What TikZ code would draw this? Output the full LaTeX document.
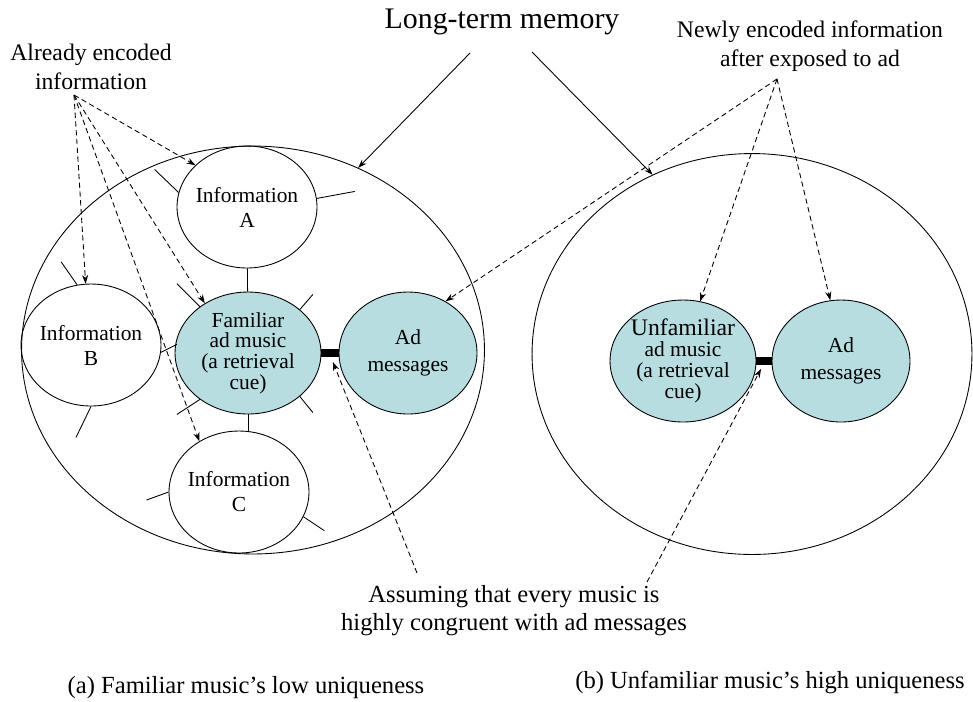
\documentclass[tikz,border=0pt]{standalone}
\usepackage{fontspec}
\setmainfont{Liberation Serif}
\usetikzlibrary{
    shapes.geometric,
    arrows.meta,
    calc
}
\definecolor{cuefill}{RGB}{183,221,224}

\begin{document}
\begin{tikzpicture}[x=0.02cm, y=-0.02cm,
    >={Stealth[length=5pt,width=3.5pt]},
    memory/.style={draw, ellipse, line width=0.5pt},
    info/.style={draw, ellipse, line width=0.5pt, inner sep=0pt, inner xsep=-6pt,
        minimum width=2.8cm, minimum height=2.44cm, align=center,
        font=\fontsize{12.2}{14.2}\selectfont},
    cue/.style={info, fill=cuefill, minimum width=2.92cm, font=\fontsize{12.2}{11.8}\selectfont},
    admsg/.style={info, fill=cuefill, minimum width=2.76cm, font=\fontsize{12.2}{15.3}\selectfont},
    heading/.style={font=\fontsize{17}{20}\selectfont},
    note/.style={align=center, font=\fontsize{13.5}{16.2}\selectfont},
    caption/.style={align=center, font=\fontsize{14}{16}\selectfont},
    link/.style={line width=0.5pt},
    bar/.style={line width=5.1pt},
    pointer/.style={->, line width=0.5pt},
    hint/.style={->, dashed, dash pattern=on 3pt off 2pt, line width=0.5pt}]
\useasboundingbox (0,0) rectangle (973,701);

\node[memory, minimum width=9.26cm, minimum height=8.16cm] (LMem) at (253,350) {};
\node[memory, minimum width=8.8cm, minimum height=8.02cm] (RMem) at (752,354) {};

\node[info] (InfoA) at (247,207) {Information\\A};
\node[info] (InfoB) at (91,345) {Information\\B};
\node[cue] (FamCue) at (248,353) {Familiar\\ad music\\(a retrieval\\cue)};
\node[admsg] (AdL) at (408,353) {Ad\\messages};
\node[info] (InfoC) at (239,492) {Information\\C};
\node[cue] (UnfCue) at (683,361) {{\fontsize{13.5}{11.8}\selectfont Unfamiliar}\\ad music\\(a retrieval\\cue)};
\node[admsg] (AdR) at (841,361) {Ad\\messages};

\node[heading] (LTM) at (502,22) {Long-term memory};
\node[note] (AEnc) at (91,67) {Already encoded\\information};
\node[note] (NEnc) at (810,46) {Newly encoded information\\after exposed to ad};
\node[caption] (Assume) at (514,611) {Assuming that every music is\\highly congruent with ad messages};
\node[caption] (CapA) at (246,688) {(a) Familiar music's low uniqueness};
\node[caption] (CapB) at (770,682) {(b) Unfamiliar music's high uniqueness};

\coordinate (ltmL) at (470,53);
\coordinate (ltmR) at (532,52);
\coordinate (aeP) at (74,95);
\coordinate (neP) at (777,79);
\coordinate (asL) at (417,573);
\coordinate (asR) at (647,582);
\coordinate (barL) at ($(FamCue.east)!.67!(AdL.west)+(0,9)$);
\coordinate (barR) at ($(UnfCue.east)!.3!(AdR.west)+(0,8)$);

\draw[link] (InfoA) -- (FamCue);
\draw[link] (FamCue.south) -- (FamCue.south |- InfoC.north);
\draw[bar] (FamCue) -- (AdL);
\draw[bar] (UnfCue) -- (AdR);

\draw[link]
    (InfoA.168) -- ++(-24,-23)
    (InfoA.7) -- ++(38,-7)
    (InfoB.103) -- ++(-16,-23)
    (InfoB.-6) -- ++(16,-8)
    (InfoB.south) -- ++(-15,31)
    (FamCue.136) -- ++(-23,-23)
    (FamCue.40) -- ++(13,-15)
    (FamCue.-136) -- ++(-23,15)
    (FamCue.-40) -- ++(13,16)
    (InfoC.west) -- ++(-22,8)
    (InfoC.-21) -- ++(21,14);

\draw
    (ltmL) edge[pointer] (LMem.60)
    (ltmR) edge[pointer] (RMem.119)
    (aeP) edge[hint] (InfoA.141)
    (aeP) edge[hint] (InfoB.95)
    (aeP) edge[hint] (FamCue.131)
    (aeP) edge[hint] (InfoC.128)
    (neP) edge[hint] (AdL.54)
    (neP) edge[hint] (UnfCue.74)
    (neP) edge[hint] (AdR.100)
    (asL) edge[hint] (barL)
    (asR) edge[hint] (barR);
\end{tikzpicture}
\end{document}
